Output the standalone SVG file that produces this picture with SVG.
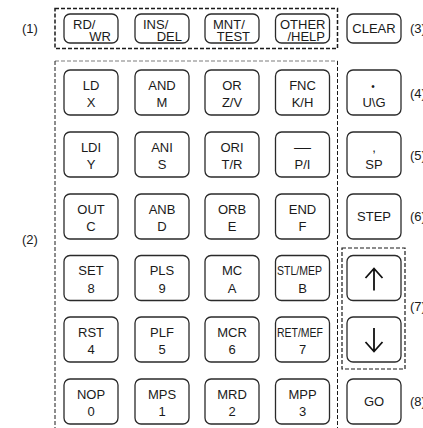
<svg xmlns="http://www.w3.org/2000/svg" width="423" height="428" viewBox="0 0 423 428">
<style>
.k{fill:#fff;stroke:#2a2a2a;stroke-width:1.3}
.t{font-family:"Liberation Sans",Arial,sans-serif;font-size:13px;fill:#1a1a1a}
.c{text-anchor:middle}
.e{text-anchor:end}
.lbl{font-family:"Liberation Sans",Arial,sans-serif;font-size:13px;fill:#1a1a1a}
.dk{fill:none;stroke:#1a1a1a;stroke-width:1.5;stroke-dasharray:4 2}
.dv{fill:none;stroke:#1a1a1a;stroke-width:1;stroke-dasharray:4 2}
.dg{fill:none;stroke:#a8a8a8;stroke-width:1.3;stroke-dasharray:4 2}
.ar{fill:none;stroke:#111;stroke-width:1.8}
</style>
<defs>
<rect id="kt" width="54" height="29" rx="6" class="k"/>
<rect id="kg" width="54" height="45" rx="6" class="k"/>
</defs>

<g id="groups">
<rect id="box1" x="55" y="8.5" width="282.5" height="40" class="dk"/>
<path id="box2-top" d="M55 61H337.5" class="dg"/>
<path id="box2-left" d="M55 61V428" class="dv"/>
<path id="box2-right" d="M337.5 61V428" class="dv"/>
<rect id="box7" x="342" y="248" width="63" height="121" class="dv" style="stroke-width:1.2"/>
</g>

<g id="labels">
<text class="lbl" x="22" y="33">(1)</text>
<text class="lbl" x="22" y="244">(2)</text>
<text class="lbl" x="410" y="33">(3)</text>
<text class="lbl" x="410" y="98">(4)</text>
<text class="lbl" x="410" y="160">(5)</text>
<text class="lbl" x="410" y="221">(6)</text>
<text class="lbl" x="410" y="311">(7)</text>
<text class="lbl" x="410" y="406">(8)</text>
</g>

<g id="key-rdwr"><use href="#kt" x="64" y="14"/><text class="t" x="73" y="28.5">RD/</text><text class="t e" x="111" y="40.5">WR</text></g>
<g id="key-insdel"><use href="#kt" x="135" y="14"/><text class="t" x="143" y="28.5">INS/</text><text class="t e" x="182" y="40.5">DEL</text></g>
<g id="key-mnttest"><use href="#kt" x="205" y="14"/><text class="t" x="213" y="28.5">MNT/</text><text class="t e" x="250" y="40.5">TEST</text></g>
<g id="key-otherhelp"><use href="#kt" x="275.5" y="14"/><text class="t" x="280" y="28.5">OTHER</text><text class="t e" x="325" y="40.5">/HELP</text></g>
<g id="key-clear"><use href="#kt" x="347" y="14"/><text class="t c" x="374" y="33">CLEAR</text></g>

<g id="key-ld"><use href="#kg" x="64" y="70"/><text class="t c" x="91" y="89.5">LD</text><text class="t c" x="91" y="107">X</text></g>
<g id="key-and"><use href="#kg" x="135" y="70"/><text class="t c" x="162" y="89.5">AND</text><text class="t c" x="162" y="107">M</text></g>
<g id="key-or"><use href="#kg" x="205" y="70"/><text class="t c" x="232" y="89.5">OR</text><text class="t c" x="232" y="107">Z/V</text></g>
<g id="key-fnc"><use href="#kg" x="275.5" y="70"/><text class="t c" x="302.5" y="89.5">FNC</text><text class="t c" x="302.5" y="107">K/H</text></g>
<g id="key-dot"><use href="#kg" x="347" y="70"/><text class="t c" x="373" y="89.5" style="font-size:10px">•</text><text class="t c" x="374" y="107">U\G</text></g>

<g id="key-ldi"><use href="#kg" x="64" y="132"/><text class="t c" x="91" y="151.5">LDI</text><text class="t c" x="91" y="169">Y</text></g>
<g id="key-ani"><use href="#kg" x="135" y="132"/><text class="t c" x="162" y="151.5">ANI</text><text class="t c" x="162" y="169">S</text></g>
<g id="key-ori"><use href="#kg" x="205" y="132"/><text class="t c" x="232" y="151.5">ORI</text><text class="t c" x="232" y="169">T/R</text></g>
<g id="key-pi"><use href="#kg" x="275.5" y="132"/><text class="t c" x="302.5" y="151.5" textLength="17" lengthAdjust="spacingAndGlyphs">—</text><text class="t c" x="302.5" y="169">P/I</text></g>
<g id="key-comma"><use href="#kg" x="347" y="132"/><text class="t c" x="374" y="151.5">,</text><text class="t c" x="374" y="169">SP</text></g>

<g id="key-out"><use href="#kg" x="64" y="194"/><text class="t c" x="91" y="213.5">OUT</text><text class="t c" x="91" y="231">C</text></g>
<g id="key-anb"><use href="#kg" x="135" y="194"/><text class="t c" x="162" y="213.5">ANB</text><text class="t c" x="162" y="231">D</text></g>
<g id="key-orb"><use href="#kg" x="205" y="194"/><text class="t c" x="232" y="213.5">ORB</text><text class="t c" x="232" y="231">E</text></g>
<g id="key-end"><use href="#kg" x="275.5" y="194"/><text class="t c" x="302.5" y="213.5">END</text><text class="t c" x="302.5" y="231">F</text></g>
<g id="key-step"><use href="#kg" x="347" y="194"/><text class="t c" x="374" y="221">STEP</text></g>

<g id="key-set"><use href="#kg" x="64" y="255.5"/><text class="t c" x="91" y="275">SET</text><text class="t c" x="91" y="292.5">8</text></g>
<g id="key-pls"><use href="#kg" x="135" y="255.5"/><text class="t c" x="162" y="275">PLS</text><text class="t c" x="162" y="292.5">9</text></g>
<g id="key-mc"><use href="#kg" x="205" y="255.5"/><text class="t c" x="232" y="275">MC</text><text class="t c" x="232" y="292.5">A</text></g>
<g id="key-stl"><use href="#kg" x="275.5" y="255.5"/><text class="t" x="277" y="275" textLength="45" lengthAdjust="spacingAndGlyphs">STL/MEP</text><text class="t c" x="302.5" y="292.5">B</text></g>
<g id="key-up"><use href="#kg" x="347" y="255.5"/><path class="ar" d="M374 268.5V290.5M365.5 278L374 268.5L382.5 278"/></g>

<g id="key-rst"><use href="#kg" x="64" y="317"/><text class="t c" x="91" y="336.5">RST</text><text class="t c" x="91" y="354">4</text></g>
<g id="key-plf"><use href="#kg" x="135" y="317"/><text class="t c" x="162" y="336.5">PLF</text><text class="t c" x="162" y="354">5</text></g>
<g id="key-mcr"><use href="#kg" x="205" y="317"/><text class="t c" x="232" y="336.5">MCR</text><text class="t c" x="232" y="354">6</text></g>
<g id="key-ret"><use href="#kg" x="275.5" y="317"/><text class="t" x="277" y="336.5" textLength="46" lengthAdjust="spacingAndGlyphs">RET/MEF</text><text class="t c" x="302.5" y="354">7</text></g>
<g id="key-down"><use href="#kg" x="347" y="317"/><path class="ar" d="M374 328V351.5M365.5 342L374 351.5L382.5 342"/></g>

<g id="key-nop"><use href="#kg" x="64" y="379"/><text class="t c" x="91" y="398.5">NOP</text><text class="t c" x="91" y="416">0</text></g>
<g id="key-mps"><use href="#kg" x="135" y="379"/><text class="t c" x="162" y="398.5">MPS</text><text class="t c" x="162" y="416">1</text></g>
<g id="key-mrd"><use href="#kg" x="205" y="379"/><text class="t c" x="232" y="398.5">MRD</text><text class="t c" x="232" y="416">2</text></g>
<g id="key-mpp"><use href="#kg" x="275.5" y="379"/><text class="t c" x="302.5" y="398.5">MPP</text><text class="t c" x="302.5" y="416">3</text></g>
<g id="key-go"><use href="#kg" x="347" y="379"/><text class="t c" x="374" y="406">GO</text></g>

<g id="connectors"></g>
</svg>
